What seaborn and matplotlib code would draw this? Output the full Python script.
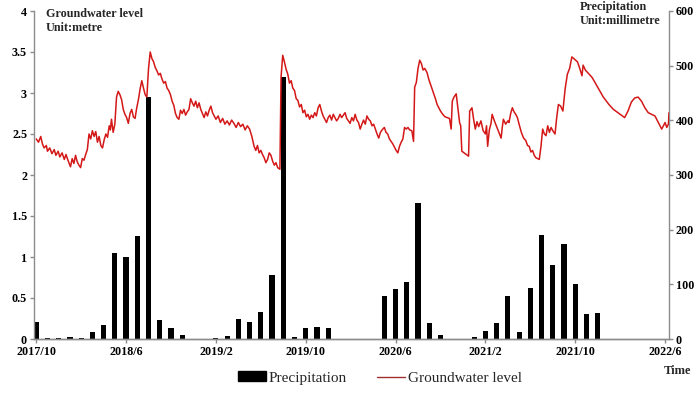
import numpy as np
import pandas as pd
import seaborn as sns
import matplotlib.pyplot as plt
from matplotlib.patches import Patch
from matplotlib.lines import Line2D

# x axis: months counted from 2017/10
tick_months = [0, 8, 16, 24, 32, 40, 48, 56]
tick_labels = ['2017/10', '2018/6', '2019/2', '2019/10', '2020/6', '2021/2', '2021/10', '2022/6']

# monthly precipitation (mm), 2017/10 .. 2021/12
precip_mm = [32, 2, 2, 4, 2, 13.5, 25, 158, 150, 189, 443, 34, 20, 8, 0, 0,
             2.5, 5, 36, 31, 50, 117, 480, 4, 20, 22, 20, 0, 0, 0, 0,
             78, 91, 104, 249, 30, 8, 0, 0, 4, 15, 29, 78, 12, 93, 190, 135, 174,
             101, 45, 48]

# groundwater level (m)
gw_month = [0.0, 0.2, 0.4, 0.55, 0.7, 0.9, 1.0, 1.2, 1.4, 1.6, 1.75, 1.95, 2.1, 2.3, 2.5, 2.65,
            2.85, 3.05, 3.2, 3.35, 3.5, 3.65, 3.8, 3.95, 4.1, 4.25, 4.4, 4.55, 4.7, 4.85, 5.0,
            5.15, 5.3, 5.45, 5.6, 5.75, 5.9, 6.05, 6.2, 6.35, 6.5, 6.6, 6.7, 6.85, 7.0, 7.15,
            7.3, 7.45, 7.6, 7.75, 7.9, 8.05, 8.2, 8.35, 8.5, 8.65, 8.8, 8.95, 9.1, 9.25, 9.4,
            9.55, 9.7, 9.85, 10.0, 10.15, 10.3, 10.45, 10.6, 10.75, 10.9, 11.05, 11.2, 11.35,
            11.5, 11.65, 11.8, 11.95, 12.1, 12.25, 12.4, 12.55, 12.7, 12.85, 13.0, 13.15, 13.3,
            13.45, 13.6, 13.75, 13.9, 14.05, 14.2, 14.35, 14.5, 14.65, 14.8, 14.95, 15.1, 15.25,
            15.4, 15.55, 15.7, 15.85, 16.0, 16.2, 16.4, 16.6, 16.8, 17.0, 17.2, 17.4, 17.6, 17.8,
            18.0, 18.2, 18.4, 18.6, 18.8, 19.0, 19.2, 19.4, 19.55, 19.7, 19.85, 20.0, 20.15,
            20.3, 20.45, 20.6, 20.75, 20.9, 21.05, 21.2, 21.35, 21.5, 21.7, 21.8, 21.95, 22.1,
            22.25, 22.4, 22.55, 22.7, 22.85, 23.0, 23.15, 23.3, 23.45, 23.6, 23.75, 23.9, 24.05,
            24.2, 24.35, 24.5, 24.65, 24.8, 24.95, 25.1, 25.25, 25.4, 25.55, 25.7, 25.85, 26.0,
            26.15, 26.3, 26.45, 26.6, 26.75, 26.9, 27.05, 27.2, 27.35, 27.5, 27.65, 27.8, 27.95,
            28.1, 28.25, 28.4, 28.55, 28.7, 28.85, 29.0, 29.15, 29.3, 29.45, 29.6, 29.75, 29.9,
            30.05, 30.2, 30.35, 30.5, 30.65, 30.8, 31.0, 31.15, 31.3, 31.45, 31.6, 31.75, 31.9,
            32.05, 32.2, 32.35, 32.5, 32.65, 32.8, 32.95, 33.1, 33.25, 33.45, 33.6, 33.7, 33.85,
            34.0, 34.15, 34.3, 34.45, 34.6, 34.8, 34.95, 35.1, 35.25, 35.4, 35.55, 35.7, 35.85,
            36.0, 36.2, 36.4, 36.6, 36.8, 36.95, 37.05, 37.2, 37.4, 37.55, 37.7, 37.8, 37.9,
            38.2, 38.5, 38.6, 38.8, 38.95, 39.1, 39.25, 39.4, 39.6, 39.8, 40.0, 40.1, 40.2,
            40.35, 40.5, 40.6, 40.8, 41.0, 41.2, 41.4, 41.5, 41.6, 41.8, 42.0, 42.1, 42.25,
            42.4, 42.55, 42.7, 42.85, 43.0, 43.2, 43.4, 43.6, 43.75, 43.9, 44.05, 44.2, 44.35,
            44.5, 44.8, 44.95, 45.1, 45.25, 45.4, 45.55, 45.7, 45.85, 46.0, 46.2, 46.35, 46.5,
            46.7, 46.9, 47.1, 47.3, 47.5, 47.7, 47.95, 48.2, 48.4, 48.6, 48.7, 48.9, 49.1, 49.5,
            50.0, 50.5, 51.0, 51.4, 51.9, 52.4, 52.7, 53.0, 53.3, 53.6, 53.9, 54.2, 54.5, 54.8,
            55.1, 55.4, 55.7, 55.85, 56.0, 56.15, 56.3, 56.35]
gw_level = [2.44, 2.40, 2.47, 2.38, 2.33, 2.36, 2.29, 2.33, 2.26, 2.31, 2.24, 2.29, 2.22, 2.27, 2.19, 2.25,
            2.17, 2.10, 2.20, 2.14, 2.24, 2.16, 2.12, 2.09, 2.20, 2.18, 2.25, 2.31, 2.50, 2.44, 2.54,
            2.47, 2.53, 2.40, 2.47, 2.36, 2.33, 2.43, 2.50, 2.46, 2.60, 2.55, 2.68, 2.52, 2.62, 2.95,
            3.02, 2.98, 2.92, 2.80, 2.74, 2.70, 2.63, 2.75, 2.80, 2.71, 2.69, 2.82, 2.92, 3.05, 3.15,
            3.06, 2.98, 2.95, 3.30, 3.50, 3.42, 3.38, 3.31, 3.27, 3.22, 3.24, 3.17, 3.12,
            3.14, 3.06, 3.03, 2.98, 2.90, 2.85, 2.75, 2.70, 2.68, 2.79, 2.75, 2.80, 2.73,
            2.77, 2.80, 2.93, 2.88, 2.84, 2.90, 2.82, 2.88, 2.80, 2.75, 2.70, 2.77, 2.72,
            2.79, 2.84, 2.76, 2.72, 2.68, 2.72, 2.64, 2.69, 2.62, 2.66, 2.61, 2.67, 2.63, 2.58,
            2.64, 2.59, 2.62, 2.55, 2.60, 2.56, 2.47, 2.35, 2.30, 2.36, 2.27, 2.30, 2.25,
            2.21, 2.15, 2.19, 2.27, 2.24, 2.17, 2.12, 2.15, 2.09, 2.07, 3.19, 3.46, 3.38,
            3.29, 3.23, 3.12, 3.15, 3.06, 3.03, 2.93, 2.91, 2.83, 2.86, 2.76, 2.79, 2.71,
            2.74, 2.68, 2.73, 2.70, 2.76, 2.72, 2.82, 2.86, 2.78, 2.72, 2.68, 2.64, 2.70,
            2.73, 2.67, 2.74, 2.70, 2.66, 2.69, 2.74, 2.70, 2.73, 2.76, 2.69, 2.66, 2.63,
            2.70, 2.66, 2.74, 2.67, 2.64, 2.56, 2.62, 2.67, 2.62, 2.72, 2.68, 2.66, 2.60,
            2.62, 2.56, 2.50, 2.45, 2.52, 2.55, 2.58, 2.52, 2.50, 2.44, 2.41, 2.38, 2.34,
            2.30, 2.27, 2.35, 2.40, 2.44, 2.58, 2.56, 2.58, 2.55, 2.54, 2.41, 3.07, 3.13,
            3.30, 3.40, 3.36, 3.28, 3.30, 3.25, 3.17, 3.11, 3.05, 2.99, 2.93, 2.86, 2.82,
            2.78, 2.74, 2.71, 2.70, 2.69, 2.56, 2.90, 2.95, 2.99, 2.82, 2.64, 2.60, 2.29,
            2.26, 2.23, 2.78, 2.82, 2.68, 2.56, 2.65, 2.59, 2.66, 2.54, 2.50, 2.60, 2.35,
            2.55, 2.63, 2.74, 2.66, 2.59, 2.52, 2.45, 2.58, 2.68, 2.62, 2.66, 2.64, 2.75,
            2.82, 2.77, 2.74, 2.70, 2.62, 2.52, 2.45, 2.42, 2.36, 2.35, 2.28, 2.30, 2.24,
            2.21, 2.19, 2.35, 2.56, 2.50, 2.48, 2.60, 2.52, 2.58, 2.54, 2.50, 2.70, 2.86,
            2.84, 2.78, 3.05, 3.23, 3.30, 3.44, 3.41, 3.38, 3.30, 3.21, 3.34, 3.28, 3.25, 3.19,
            3.07, 2.95, 2.86, 2.80, 2.75, 2.70, 2.78, 2.89, 2.94, 2.95, 2.90, 2.82, 2.76, 2.74,
            2.72, 2.64, 2.56, 2.60, 2.64, 2.58, 2.62, 2.76]

sns.set_style('ticks')
plt.rcParams['font.family'] = ['Liberation Serif', 'DejaVu Serif']

fig = plt.figure(figsize=(6.99, 3.93), dpi=100)
ax = fig.add_axes([34 / 699, 54 / 393, 635 / 699, 328 / 393])
ax2 = ax.twinx()

precip = pd.DataFrame({'month': np.arange(len(precip_mm)), 'mm': precip_mm})
sns.barplot(data=precip, x='month', y='mm', native_scale=True, color='black',
            saturation=1, width=0.46, linewidth=0, errorbar=None, ax=ax2)

gw = pd.DataFrame({'month': gw_month, 'level': gw_level})
sns.lineplot(data=gw, x='month', y='level', sort=False, estimator=None,
             color='#d41818', linewidth=1.1, ax=ax)

# line above the bars
ax.set_zorder(ax2.get_zorder() + 1)
ax.patch.set_visible(False)

ax.set_xlim(-0.2, 56.35)
ax.set_ylim(0, 4)
ax2.set_ylim(0, 600)
ax.set_xticks(tick_months)
ax.set_xticklabels(tick_labels)
ax.set_yticks(np.arange(0, 4.01, 0.5))
ax.set_yticklabels(['0', '0.5', '1', '1.5', '2', '2.5', '3', '3.5', '4'])
ax2.set_yticks(range(0, 601, 100))
for a in (ax, ax2):
    a.set_xlabel('')
    a.set_ylabel('')
    a.spines['top'].set_visible(False)
    for s in a.spines.values():
        s.set_color('#8c8c8c')
        s.set_linewidth(1.0)
    a.tick_params(colors='#8c8c8c', labelcolor='black', length=3, width=1,
                  labelsize=8.7, pad=2)
    for lab in a.get_xticklabels() + a.get_yticklabels():
        lab.set_fontweight('bold')
ax.spines['right'].set_visible(False)
ax2.spines['left'].set_visible(False)

fig.text(46 / 699, 1 - 8 / 393, 'Groundwater level\nUnit:metre', fontsize=8.7,
         fontweight='bold', va='top', ha='left', linespacing=1.2)
fig.text(580 / 699, 1 - 1 / 393, 'Precipitation\nUnit:millimetre', fontsize=8.7,
         fontweight='bold', va='top', ha='left', linespacing=1.2)
fig.text(678 / 699, 1 - 371 / 393, 'Time', fontsize=9, fontweight='bold',
         ha='center', va='center')

handles = [Patch(facecolor='black', edgecolor='black'),
           Line2D([], [], color='#a03030', linewidth=1.0)]
fig.legend(handles, ['Precipitation', 'Groundwater level'], loc='center',
           bbox_to_anchor=(380 / 699, 1 - 378 / 393), ncol=2, frameon=False,
           fontsize=11, handlelength=1.8, handleheight=0.6, handletextpad=0.2,
           columnspacing=2.0)

fig.savefig('out.png', dpi=100)
